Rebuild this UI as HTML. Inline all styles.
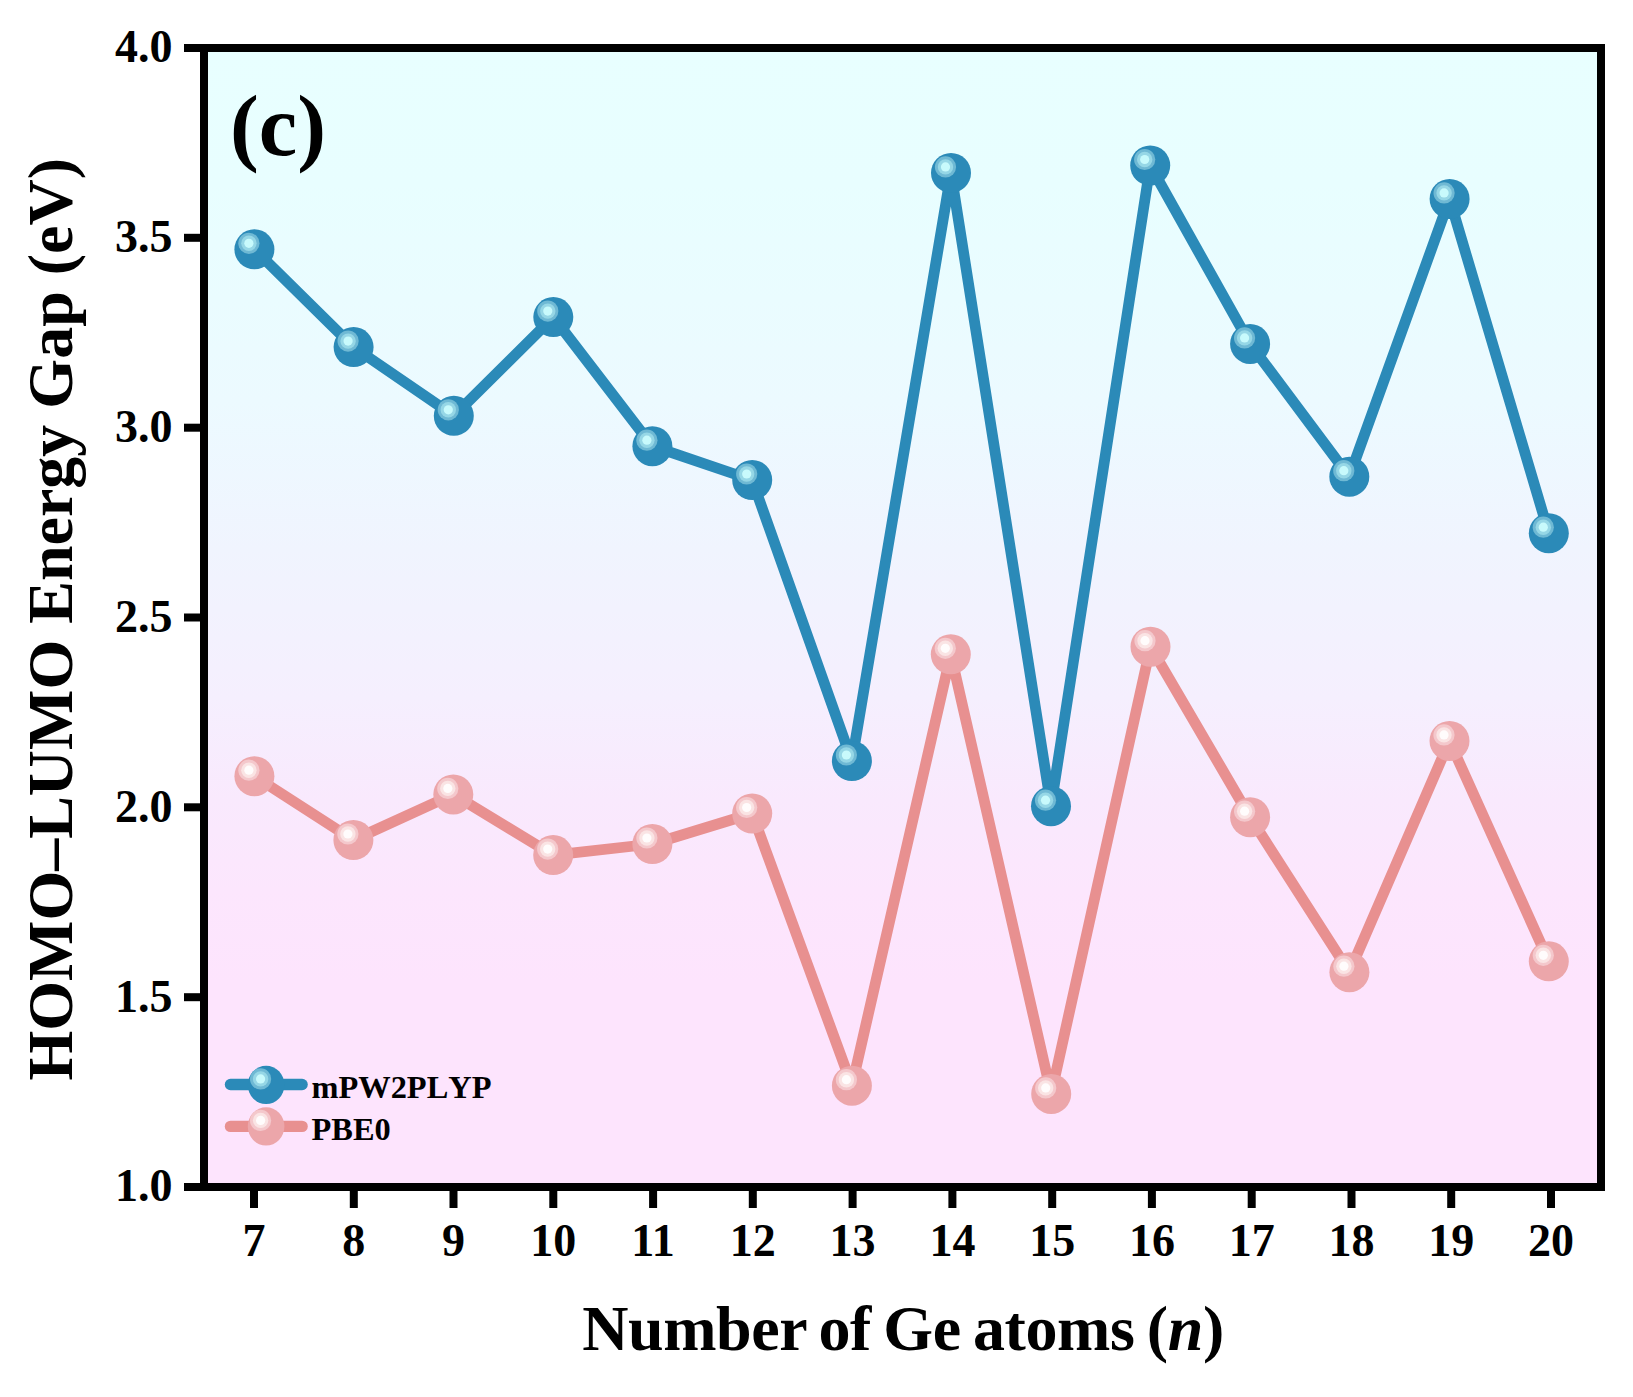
<!DOCTYPE html>
<html lang="en"><head><meta charset="utf-8"><title>HOMO-LUMO Energy Gap</title>
<style>
html,body{margin:0;padding:0;background:#fff;}
svg{display:block;}
text{font-family:"Liberation Serif",serif;font-weight:bold;fill:#000;}
</style></head><body>
<svg width="1633" height="1397" viewBox="0 0 1633 1397">
<defs><linearGradient id="bg" x1="0" y1="0" x2="0" y2="1"><stop offset="0" stop-color="#e8ffff"/><stop offset="0.12" stop-color="#e8feff"/><stop offset="0.22" stop-color="#eafcff"/><stop offset="0.31" stop-color="#ecfaff"/><stop offset="0.44" stop-color="#f0f4fe"/><stop offset="0.57" stop-color="#f5effe"/><stop offset="0.66" stop-color="#f9e9fd"/><stop offset="0.74" stop-color="#fce6fd"/><stop offset="0.82" stop-color="#fde4fd"/><stop offset="1" stop-color="#fde4fd"/></linearGradient></defs>
<rect x="0" y="0" width="1633" height="1397" fill="#fff"/>
<rect x="204" y="48" width="1397" height="1139" fill="url(#bg)"/>
<polyline points="254.4,776.2 353.4,840.0 453.3,794.4 553.2,855.1 652.4,844.0 752.2,813.5 851.9,1085.7 950.8,654.3 1051.2,1093.9 1150.5,646.7 1250.1,817.2 1349.4,972.2 1449.5,740.9 1548.8,961.3" fill="none" stroke="#e89090" stroke-width="10.8" stroke-linejoin="round" stroke-linecap="round"/>
<ellipse cx="254.4" cy="776.2" rx="20.0" ry="20.0" fill="#eca6aa"/><circle cx="248.9" cy="770.2" r="10.6" fill="#f4c8cc"/><circle cx="248.9" cy="770.2" r="7.7" fill="#fae4e4"/><circle cx="248.9" cy="770.2" r="4.6" fill="#fffcfc"/>
<ellipse cx="353.4" cy="840.0" rx="20.0" ry="20.0" fill="#eca6aa"/><circle cx="347.9" cy="834.0" r="10.6" fill="#f4c8cc"/><circle cx="347.9" cy="834.0" r="7.7" fill="#fae4e4"/><circle cx="347.9" cy="834.0" r="4.6" fill="#fffcfc"/>
<ellipse cx="453.3" cy="794.4" rx="20.0" ry="20.0" fill="#eca6aa"/><circle cx="447.8" cy="788.4" r="10.6" fill="#f4c8cc"/><circle cx="447.8" cy="788.4" r="7.7" fill="#fae4e4"/><circle cx="447.8" cy="788.4" r="4.6" fill="#fffcfc"/>
<ellipse cx="553.2" cy="855.1" rx="20.0" ry="20.0" fill="#eca6aa"/><circle cx="547.7" cy="849.1" r="10.6" fill="#f4c8cc"/><circle cx="547.7" cy="849.1" r="7.7" fill="#fae4e4"/><circle cx="547.7" cy="849.1" r="4.6" fill="#fffcfc"/>
<ellipse cx="652.4" cy="844.0" rx="20.0" ry="20.0" fill="#eca6aa"/><circle cx="646.9" cy="838.0" r="10.6" fill="#f4c8cc"/><circle cx="646.9" cy="838.0" r="7.7" fill="#fae4e4"/><circle cx="646.9" cy="838.0" r="4.6" fill="#fffcfc"/>
<ellipse cx="752.2" cy="813.5" rx="20.0" ry="20.0" fill="#eca6aa"/><circle cx="746.7" cy="807.5" r="10.6" fill="#f4c8cc"/><circle cx="746.7" cy="807.5" r="7.7" fill="#fae4e4"/><circle cx="746.7" cy="807.5" r="4.6" fill="#fffcfc"/>
<ellipse cx="851.9" cy="1085.7" rx="20.0" ry="20.0" fill="#eca6aa"/><circle cx="846.4" cy="1079.7" r="10.6" fill="#f4c8cc"/><circle cx="846.4" cy="1079.7" r="7.7" fill="#fae4e4"/><circle cx="846.4" cy="1079.7" r="4.6" fill="#fffcfc"/>
<ellipse cx="950.8" cy="654.3" rx="20.0" ry="20.0" fill="#eca6aa"/><circle cx="945.3" cy="648.3" r="10.6" fill="#f4c8cc"/><circle cx="945.3" cy="648.3" r="7.7" fill="#fae4e4"/><circle cx="945.3" cy="648.3" r="4.6" fill="#fffcfc"/>
<ellipse cx="1051.2" cy="1093.9" rx="20.0" ry="20.0" fill="#eca6aa"/><circle cx="1045.7" cy="1087.9" r="10.6" fill="#f4c8cc"/><circle cx="1045.7" cy="1087.9" r="7.7" fill="#fae4e4"/><circle cx="1045.7" cy="1087.9" r="4.6" fill="#fffcfc"/>
<ellipse cx="1150.5" cy="646.7" rx="20.0" ry="20.0" fill="#eca6aa"/><circle cx="1145.0" cy="640.7" r="10.6" fill="#f4c8cc"/><circle cx="1145.0" cy="640.7" r="7.7" fill="#fae4e4"/><circle cx="1145.0" cy="640.7" r="4.6" fill="#fffcfc"/>
<ellipse cx="1250.1" cy="817.2" rx="20.0" ry="20.0" fill="#eca6aa"/><circle cx="1244.6" cy="811.2" r="10.6" fill="#f4c8cc"/><circle cx="1244.6" cy="811.2" r="7.7" fill="#fae4e4"/><circle cx="1244.6" cy="811.2" r="4.6" fill="#fffcfc"/>
<ellipse cx="1349.4" cy="972.2" rx="20.0" ry="20.0" fill="#eca6aa"/><circle cx="1343.9" cy="966.2" r="10.6" fill="#f4c8cc"/><circle cx="1343.9" cy="966.2" r="7.7" fill="#fae4e4"/><circle cx="1343.9" cy="966.2" r="4.6" fill="#fffcfc"/>
<ellipse cx="1449.5" cy="740.9" rx="20.0" ry="20.0" fill="#eca6aa"/><circle cx="1444.0" cy="734.9" r="10.6" fill="#f4c8cc"/><circle cx="1444.0" cy="734.9" r="7.7" fill="#fae4e4"/><circle cx="1444.0" cy="734.9" r="4.6" fill="#fffcfc"/>
<ellipse cx="1548.8" cy="961.3" rx="20.0" ry="20.0" fill="#eca6aa"/><circle cx="1543.3" cy="955.3" r="10.6" fill="#f4c8cc"/><circle cx="1543.3" cy="955.3" r="7.7" fill="#fae4e4"/><circle cx="1543.3" cy="955.3" r="4.6" fill="#fffcfc"/>
<polyline points="254.4,249.3 353.6,347.1 453.8,415.8 553.3,317.1 652.4,446.2 752.2,480.0 851.9,761.0 951.0,172.9 1051.0,806.2 1150.2,165.5 1250.1,343.9 1349.3,476.7 1449.6,198.9 1548.8,533.2" fill="none" stroke="#2b8ab8" stroke-width="10.8" stroke-linejoin="round" stroke-linecap="round"/>
<ellipse cx="254.4" cy="249.3" rx="20.0" ry="20.0" fill="#2b8ab8"/><circle cx="248.9" cy="243.3" r="10.6" fill="#6fb9d4"/><circle cx="248.9" cy="243.3" r="7.7" fill="#96d7e6"/><circle cx="248.9" cy="243.3" r="4.6" fill="#c8fafc"/>
<ellipse cx="353.6" cy="347.1" rx="20.0" ry="20.0" fill="#2b8ab8"/><circle cx="348.1" cy="341.1" r="10.6" fill="#6fb9d4"/><circle cx="348.1" cy="341.1" r="7.7" fill="#96d7e6"/><circle cx="348.1" cy="341.1" r="4.6" fill="#c8fafc"/>
<ellipse cx="453.8" cy="415.8" rx="20.0" ry="20.0" fill="#2b8ab8"/><circle cx="448.3" cy="409.8" r="10.6" fill="#6fb9d4"/><circle cx="448.3" cy="409.8" r="7.7" fill="#96d7e6"/><circle cx="448.3" cy="409.8" r="4.6" fill="#c8fafc"/>
<ellipse cx="553.3" cy="317.1" rx="20.0" ry="20.0" fill="#2b8ab8"/><circle cx="547.8" cy="311.1" r="10.6" fill="#6fb9d4"/><circle cx="547.8" cy="311.1" r="7.7" fill="#96d7e6"/><circle cx="547.8" cy="311.1" r="4.6" fill="#c8fafc"/>
<ellipse cx="652.4" cy="446.2" rx="20.0" ry="20.0" fill="#2b8ab8"/><circle cx="646.9" cy="440.2" r="10.6" fill="#6fb9d4"/><circle cx="646.9" cy="440.2" r="7.7" fill="#96d7e6"/><circle cx="646.9" cy="440.2" r="4.6" fill="#c8fafc"/>
<ellipse cx="752.2" cy="480.0" rx="20.0" ry="20.0" fill="#2b8ab8"/><circle cx="746.7" cy="474.0" r="10.6" fill="#6fb9d4"/><circle cx="746.7" cy="474.0" r="7.7" fill="#96d7e6"/><circle cx="746.7" cy="474.0" r="4.6" fill="#c8fafc"/>
<ellipse cx="851.9" cy="761.0" rx="20.0" ry="20.0" fill="#2b8ab8"/><circle cx="846.4" cy="755.0" r="10.6" fill="#6fb9d4"/><circle cx="846.4" cy="755.0" r="7.7" fill="#96d7e6"/><circle cx="846.4" cy="755.0" r="4.6" fill="#c8fafc"/>
<ellipse cx="951.0" cy="172.9" rx="20.0" ry="20.0" fill="#2b8ab8"/><circle cx="945.5" cy="166.9" r="10.6" fill="#6fb9d4"/><circle cx="945.5" cy="166.9" r="7.7" fill="#96d7e6"/><circle cx="945.5" cy="166.9" r="4.6" fill="#c8fafc"/>
<ellipse cx="1051.0" cy="806.2" rx="20.0" ry="20.0" fill="#2b8ab8"/><circle cx="1045.5" cy="800.2" r="10.6" fill="#6fb9d4"/><circle cx="1045.5" cy="800.2" r="7.7" fill="#96d7e6"/><circle cx="1045.5" cy="800.2" r="4.6" fill="#c8fafc"/>
<ellipse cx="1150.2" cy="165.5" rx="20.0" ry="20.0" fill="#2b8ab8"/><circle cx="1144.7" cy="159.5" r="10.6" fill="#6fb9d4"/><circle cx="1144.7" cy="159.5" r="7.7" fill="#96d7e6"/><circle cx="1144.7" cy="159.5" r="4.6" fill="#c8fafc"/>
<ellipse cx="1250.1" cy="343.9" rx="20.0" ry="20.0" fill="#2b8ab8"/><circle cx="1244.6" cy="337.9" r="10.6" fill="#6fb9d4"/><circle cx="1244.6" cy="337.9" r="7.7" fill="#96d7e6"/><circle cx="1244.6" cy="337.9" r="4.6" fill="#c8fafc"/>
<ellipse cx="1349.3" cy="476.7" rx="20.0" ry="20.0" fill="#2b8ab8"/><circle cx="1343.8" cy="470.7" r="10.6" fill="#6fb9d4"/><circle cx="1343.8" cy="470.7" r="7.7" fill="#96d7e6"/><circle cx="1343.8" cy="470.7" r="4.6" fill="#c8fafc"/>
<ellipse cx="1449.6" cy="198.9" rx="20.0" ry="20.0" fill="#2b8ab8"/><circle cx="1444.1" cy="192.9" r="10.6" fill="#6fb9d4"/><circle cx="1444.1" cy="192.9" r="7.7" fill="#96d7e6"/><circle cx="1444.1" cy="192.9" r="4.6" fill="#c8fafc"/>
<ellipse cx="1548.8" cy="533.2" rx="20.0" ry="20.0" fill="#2b8ab8"/><circle cx="1543.3" cy="527.2" r="10.6" fill="#6fb9d4"/><circle cx="1543.3" cy="527.2" r="7.7" fill="#96d7e6"/><circle cx="1543.3" cy="527.2" r="4.6" fill="#c8fafc"/>
<rect x="204" y="48" width="1397" height="1139" fill="none" stroke="#000" stroke-width="8"/>
<rect x="184" y="44.0" width="17" height="8" fill="#000"/><text x="172.6" y="62.3" font-size="46" text-anchor="end">4.0</text>
<rect x="184" y="233.8" width="17" height="8" fill="#000"/><text x="172.6" y="252.1" font-size="46" text-anchor="end">3.5</text>
<rect x="184" y="423.7" width="17" height="8" fill="#000"/><text x="172.6" y="442.0" font-size="46" text-anchor="end">3.0</text>
<rect x="184" y="613.5" width="17" height="8" fill="#000"/><text x="172.6" y="631.8" font-size="46" text-anchor="end">2.5</text>
<rect x="184" y="803.3" width="17" height="8" fill="#000"/><text x="172.6" y="821.6" font-size="46" text-anchor="end">2.0</text>
<rect x="184" y="993.2" width="17" height="8" fill="#000"/><text x="172.6" y="1011.5" font-size="46" text-anchor="end">1.5</text>
<rect x="184" y="1183.0" width="17" height="8" fill="#000"/><text x="172.6" y="1201.3" font-size="46" text-anchor="end">1.0</text>
<rect x="250.0" y="1190" width="8" height="18" fill="#000"/><text x="254.0" y="1255.8" font-size="46" text-anchor="middle">7</text>
<rect x="349.8" y="1190" width="8" height="18" fill="#000"/><text x="353.8" y="1255.8" font-size="46" text-anchor="middle">8</text>
<rect x="449.5" y="1190" width="8" height="18" fill="#000"/><text x="453.5" y="1255.8" font-size="46" text-anchor="middle">9</text>
<rect x="549.3" y="1190" width="8" height="18" fill="#000"/><text x="553.3" y="1255.8" font-size="46" text-anchor="middle">10</text>
<rect x="649.1" y="1190" width="8" height="18" fill="#000"/><text x="653.1" y="1255.8" font-size="46" text-anchor="middle">11</text>
<rect x="748.8" y="1190" width="8" height="18" fill="#000"/><text x="752.8" y="1255.8" font-size="46" text-anchor="middle">12</text>
<rect x="848.6" y="1190" width="8" height="18" fill="#000"/><text x="852.6" y="1255.8" font-size="46" text-anchor="middle">13</text>
<rect x="948.4" y="1190" width="8" height="18" fill="#000"/><text x="952.4" y="1255.8" font-size="46" text-anchor="middle">14</text>
<rect x="1048.2" y="1190" width="8" height="18" fill="#000"/><text x="1052.2" y="1255.8" font-size="46" text-anchor="middle">15</text>
<rect x="1147.9" y="1190" width="8" height="18" fill="#000"/><text x="1151.9" y="1255.8" font-size="46" text-anchor="middle">16</text>
<rect x="1247.7" y="1190" width="8" height="18" fill="#000"/><text x="1251.7" y="1255.8" font-size="46" text-anchor="middle">17</text>
<rect x="1347.5" y="1190" width="8" height="18" fill="#000"/><text x="1351.5" y="1255.8" font-size="46" text-anchor="middle">18</text>
<rect x="1447.2" y="1190" width="8" height="18" fill="#000"/><text x="1451.2" y="1255.8" font-size="46" text-anchor="middle">19</text>
<rect x="1547.0" y="1190" width="8" height="18" fill="#000"/><text x="1551.0" y="1255.8" font-size="46" text-anchor="middle">20</text>
<text x="230" y="154.8" font-size="86.5">(c)</text>
<text x="903" y="1349.7" font-size="64" text-anchor="middle" word-spacing="-3.3" letter-spacing="-0.4">Number of Ge atoms (<tspan font-style="italic">n</tspan>)</text>
<text transform="translate(72.2,619.3) rotate(-90)" font-size="64" text-anchor="middle">HOMO–LUMO Energy Gap (eV)</text>
<line x1="230.5" y1="1084.5" x2="302.1" y2="1084.5" stroke="#2b8ab8" stroke-width="11.4" stroke-linecap="round"/><ellipse cx="266.1" cy="1084.9" rx="18.3" ry="19.2" fill="#2b8ab8"/><circle cx="260.6" cy="1078.9" r="10.6" fill="#6fb9d4"/><circle cx="260.6" cy="1078.9" r="7.7" fill="#96d7e6"/><circle cx="260.6" cy="1078.9" r="4.6" fill="#c8fafc"/><line x1="230.5" y1="1126.4" x2="302.1" y2="1126.4" stroke="#e89090" stroke-width="11.4" stroke-linecap="round"/><ellipse cx="266.1" cy="1126.4" rx="18.3" ry="19.2" fill="#eca6aa"/><circle cx="260.6" cy="1120.4" r="10.6" fill="#f4c8cc"/><circle cx="260.6" cy="1120.4" r="7.7" fill="#fae4e4"/><circle cx="260.6" cy="1120.4" r="4.6" fill="#fffcfc"/><text x="311.5" y="1097.5" font-size="32.4" style="font-kerning:none">mPW2PLYP</text><text x="311.5" y="1139.8" font-size="32.4" style="font-kerning:none">PBE0</text>
</svg></body></html>
